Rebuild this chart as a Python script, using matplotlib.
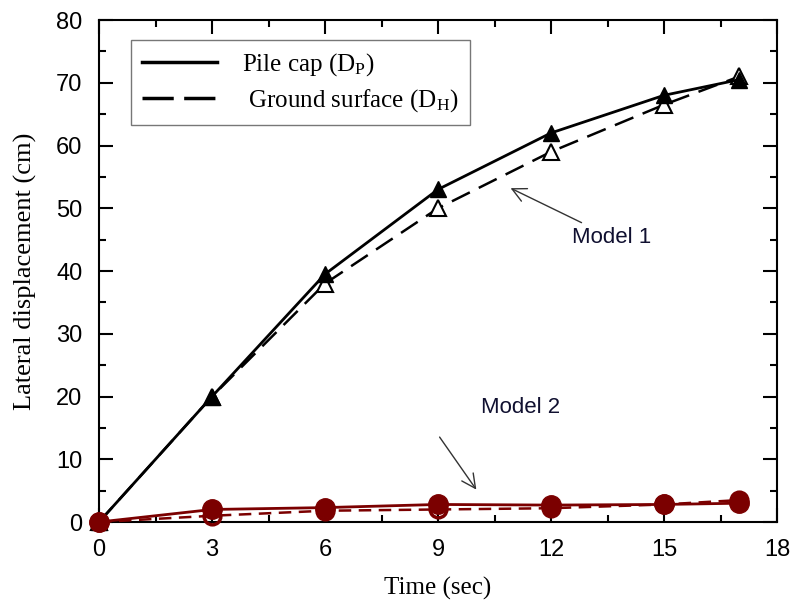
import matplotlib
matplotlib.use("Agg")
import matplotlib.pyplot as plt
from matplotlib.ticker import MultipleLocator

plt.rcParams['font.family'] = ['Liberation Serif', 'DejaVu Serif']
plt.rcParams['mathtext.fontset'] = 'stix'

# 时间 (sec)
time = [0, 3, 6, 9, 12, 15, 17]
# Model 1
m1_pile = [0, 20, 39.5, 53, 62, 68, 70.5]
m1_ground = [0, 20, 38, 50, 59, 66.5, 71]
# Model 2
m2_pile = [0, 2.0, 2.3, 2.8, 2.7, 2.8, 3.0]
m2_ground = [0, 1.0, 1.8, 2.0, 2.2, 2.8, 3.5]

red = '#7b0000'

fig = plt.figure(figsize=(7.94, 6.01), dpi=100)
ax = fig.add_axes([0.1247, 0.1314, 0.8539, 0.8353])

# 先画虚线(空心)，再画实线(实心)
ax.plot(time, m1_ground, '--', color='black', lw=1.8, dashes=(8, 4), marker='^', ms=12,
        mfc='white', mec='black', mew=1.5, clip_on=False, zorder=3)
ax.plot(time, m1_pile, '-', color='black', lw=2, marker='^', ms=12, mfc='black', mec='black',
        clip_on=False, zorder=4)
ax.plot(time, m2_ground, '--', color=red, lw=1.8, dashes=(5, 3), marker='o', ms=12,
        mfc='none', mec=red, mew=2.5, clip_on=False, zorder=3)
ax.plot(time, m2_pile, '-', color=red, lw=2, marker='o', ms=14, mfc=red, mec=red,
        clip_on=False, zorder=4)

# legend (line styles only)
h1, = ax.plot([], [], '-', color='black', lw=2.5)
h2, = ax.plot([], [], '--', color='black', lw=2.5, dashes=(9, 3))
leg = ax.legend([h1, h2], [r'Pile cap (D$_\mathregular{P}$)', r' Ground surface (D$_\mathregular{H}$)'],
                loc='upper left', bbox_to_anchor=(0.047, 0.96), fontsize=18, frameon=True,
                fancybox=False, edgecolor='#555555', handlelength=3.0, borderpad=0.45,
                labelspacing=0.35, handletextpad=1.0, borderaxespad=0)
leg.get_frame().set_linewidth(1.0)

ax.annotate('Model 1', xy=(10.86, 53.4), xytext=(12.55, 45.4), fontsize=16,
            family='Liberation Sans', va='center', ha='left', color='#101030',
            arrowprops=dict(arrowstyle='->', color='#333333', lw=1, shrinkA=2,
                            mutation_scale=25))
ax.annotate('Model 2', xy=(10.06, 4.8), xytext=(11.2, 18.2), fontsize=16,
            family='Liberation Sans', va='center', ha='center', color='#101030')
ax.annotate('', xy=(10.06, 4.8), xytext=(9.0, 13.9),
            arrowprops=dict(arrowstyle='->', color='#333333', lw=1, mutation_scale=25))

ax.set_xlim(0, 18)
ax.set_ylim(0, 80)
ax.xaxis.set_major_locator(MultipleLocator(3))
ax.xaxis.set_minor_locator(MultipleLocator(1.5))
ax.yaxis.set_major_locator(MultipleLocator(10))
ax.yaxis.set_minor_locator(MultipleLocator(5))
ax.tick_params(which='both', direction='in', top=True, right=True, labelsize=17, width=1.5)
ax.tick_params(which='major', length=10)
ax.tick_params(which='minor', length=5)
ax.tick_params(axis='x', pad=12)
ax.tick_params(axis='y', pad=12)
for s in ax.spines.values():
    s.set_linewidth(1.5)
for lab in ax.get_xticklabels() + ax.get_yticklabels():
    lab.set_family('Liberation Sans')

ax.set_xlabel('Time (sec)', fontsize=18, labelpad=12)
ax.set_ylabel('Lateral displacement (cm)', fontsize=19, labelpad=14)

fig.savefig('out.png', dpi=100)
